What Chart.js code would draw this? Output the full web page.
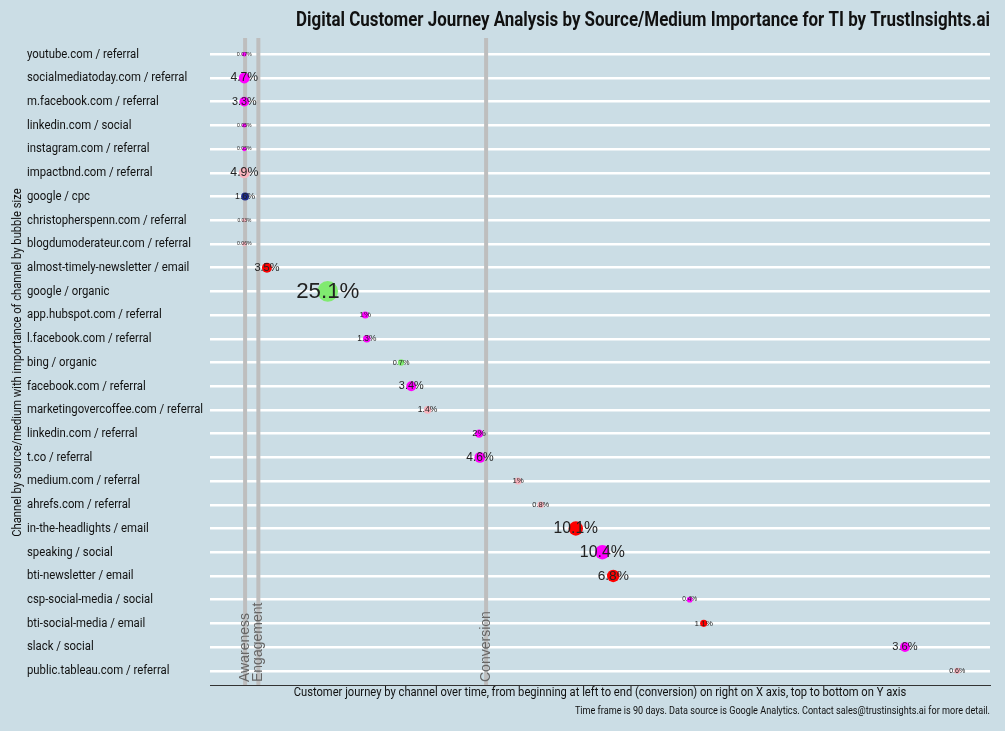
<!DOCTYPE html>
<html>
<head>
<meta charset="utf-8">
<title>Digital Customer Journey Analysis</title>
<script src="https://cdn.jsdelivr.net/npm/chart.js@4.4.1/dist/chart.umd.min.js"></script>
<style>
    html, body { margin: 0; padding: 0; background: #cbdde5; }
    #wrap { width: 1005px; height: 731px; }
</style>
</head>
<body>
<div id="wrap"><canvas id="journey"></canvas></div>
<script>
const channels = [
    "youtube.com / referral",
    "socialmediatoday.com / referral",
    "m.facebook.com / referral",
    "linkedin.com / social",
    "instagram.com / referral",
    "impactbnd.com / referral",
    "google / cpc",
    "christopherspenn.com / referral",
    "blogdumoderateur.com / referral",
    "almost-timely-newsletter / email",
    "google / organic",
    "app.hubspot.com / referral",
    "l.facebook.com / referral",
    "bing / organic",
    "facebook.com / referral",
    "marketingovercoffee.com / referral",
    "linkedin.com / referral",
    "t.co / referral",
    "medium.com / referral",
    "ahrefs.com / referral",
    "in-the-headlights / email",
    "speaking / social",
    "bti-newsletter / email",
    "csp-social-media / social",
    "bti-social-media / email",
    "slack / social",
    "public.tableau.com / referral"
];

// position along the journey (0 = start, 100 = end)
const journeyX = [4.4, 4.4, 4.4, 4.4, 4.4, 4.4, 4.5, 4.4, 4.4, 7.3, 15.1, 19.9, 20.1, 24.5, 25.8, 27.9,
    34.5, 34.6, 39.5, 42.4, 46.9, 50.3, 51.7, 61.5, 63.3, 89.1, 95.8];

// importance of channel, percent
const importance = [0.07, 4.7, 3.3, 0.05, 0.05, 4.9, 1.6, 0.03, 0.06, 3.5, 25.1, 1, 1.3, 0.7, 3.4, 1.4,
    2, 4.6, 1, 0.8, 10.1, 10.4, 6.8, 0.4, 1.1, 3.6, 0.6];

const groups = ["social", "social", "social", "social", "social", "referral", "cpc", "referral", "referral",
    "email", "organic", "social", "social", "organic", "social", "referral", "social", "social", "referral",
    "referral", "email", "social", "email", "social", "email", "social", "referral"];

const phaseNames = ["Awareness", "Engagement", "Conversion"];
const phaseX = [4.5, 6.2, 35.4];

const titleText = "Digital Customer Journey Analysis by Source/Medium Importance for TI by TrustInsights.ai";
const xTitleText = "Customer journey by channel over time, from beginning at left to end (conversion) on right on X axis, top to bottom on Y axis";
const yTitleText = "Channel by source/medium with importance of channel by bubble size";
const captionText = "Time frame is 90 days. Data source is Google Analytics. Contact sales@trustinsights.ai for more detail.";

const groupColors = {
    social: "#ff00ff",
    email: "#ff0000",
    organic: "#80ea70",
    referral: "#f7b3bd",
    cpc: "#1c2a8c"
};

const plain = "'Liberation Sans', Arial, sans-serif";

// Roboto squeezed sideways stands in for Roboto Condensed
function narrowText(ctx, text, x, y, font, align, rotate) {
    ctx.save();
    ctx.translate(x, y);
    if (rotate) ctx.rotate(rotate);
    ctx.scale(0.86, 1);
    ctx.font = font;
    ctx.fillStyle = "#111";
    ctx.textAlign = align;
    ctx.textBaseline = "middle";
    ctx.fillText(text, 0, 0);
    ctx.restore();
}

// vertical phase markers, behind the bubbles
const phaseLines = {
    id: "phaseLines",
    beforeDatasetsDraw(chart) {
        const { ctx, chartArea, scales } = chart;
        ctx.save();
        phaseX.forEach((v, i) => {
            const px = scales.x.getPixelForValue(v);
            ctx.strokeStyle = "#bebebe";
            ctx.lineWidth = 4;
            ctx.beginPath();
            ctx.moveTo(px, chartArea.top - 2);
            ctx.lineTo(px, chartArea.bottom);
            ctx.stroke();

            ctx.save();
            ctx.translate(px, chartArea.bottom - 3);
            ctx.rotate(-Math.PI / 2);
            ctx.fillStyle = "#666";
            ctx.font = "14px " + plain;
            ctx.textAlign = "left";
            ctx.textBaseline = "middle";
            ctx.fillText(phaseNames[i], 0, 0);
            ctx.restore();
        });
        ctx.restore();
    }
};

// percentage labels sized by importance
const bubbleLabels = {
    id: "bubbleLabels",
    afterDatasetsDraw(chart) {
        const { ctx } = chart;
        const meta = chart.getDatasetMeta(0);
        ctx.save();
        ctx.textAlign = "center";
        ctx.textBaseline = "middle";
        ctx.fillStyle = "#222";
        meta.data.forEach((pt, i) => {
            const v = importance[i];
            const size = 4.3 + 3.6 * Math.sqrt(v);
            ctx.font = size.toFixed(1) + "px " + plain;
            ctx.fillText(v + "%", pt.x, pt.y);
        });
        ctx.restore();
    }
};

// channel names, titles and caption
const textLayer = {
    id: "textLayer",
    afterDraw(chart) {
        const { ctx, chartArea, scales } = chart;
        channels.forEach((c, i) => {
            narrowText(ctx, c, 27, scales.y.getPixelForValue(i), "13.2px Roboto", "left");
        });
        narrowText(ctx, titleText, chartArea.right, 21, "bold 19.7px Roboto", "right");
        narrowText(ctx, xTitleText, (chartArea.left + chartArea.right) / 2, chartArea.bottom + 8, "13px Roboto", "center");
        narrowText(ctx, captionText, chartArea.right, chartArea.bottom + 26, "10.6px Roboto", "right");
        narrowText(ctx, yTitleText, 18, (chartArea.top + chartArea.bottom) / 2, "13px Roboto", "center", -Math.PI / 2);
    }
};

new Chart(document.getElementById("journey"), {
    type: "bubble",
    data: {
        datasets: [{
            data: channels.map((c, i) => ({ x: journeyX[i], y: i, r: 1.8 + 1.7 * Math.sqrt(importance[i]) })),
            backgroundColor: ctx => groupColors[groups[ctx.dataIndex]],
            borderWidth: 0
        }]
    },
    options: {
        responsive: true,
        maintainAspectRatio: false,
        animation: false,
        layout: { padding: { left: 210, right: 15, top: 40, bottom: 38 } },
        plugins: {
            legend: { display: false },
            tooltip: { enabled: false }
        },
        scales: {
            x: {
                type: "linear",
                min: 0,
                max: 100,
                grid: { display: false },
                border: { display: true, color: "#333", width: 1 },
                ticks: { display: false }
            },
            y: {
                type: "linear",
                reverse: true,
                min: -0.6,
                max: 26.6,
                afterBuildTicks: s => { s.ticks = channels.map((c, i) => ({ value: i })); },
                ticks: { display: false },
                grid: { color: "#ffffff", lineWidth: 2.5, drawTicks: false },
                border: { display: false }
            }
        }
    },
    plugins: [phaseLines, bubbleLabels, textLayer]
});
</script>
</body>
</html>
